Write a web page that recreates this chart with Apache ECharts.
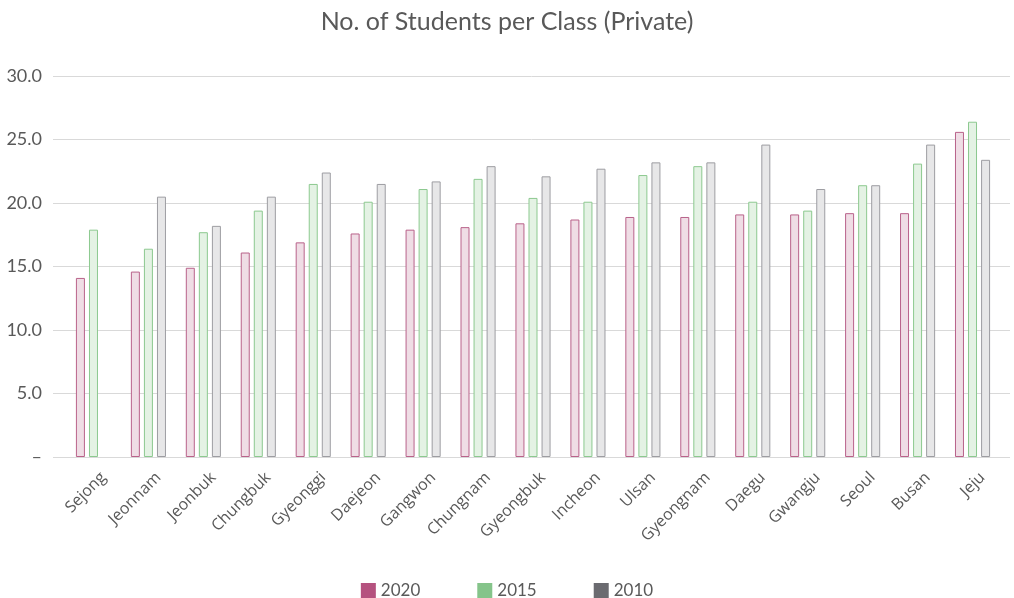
<!DOCTYPE html>
<html>
<head>
<meta charset="utf-8">
<script src="https://cdn.jsdelivr.net/npm/echarts@6/dist/echarts.min.js"></script>
<style>
html,body{margin:0;padding:0;background:#fff;}
#chart{width:1014px;height:598px;}
</style>
</head>
<body>
<div id="chart"></div>
<script>
const categories = ["Sejong","Jeonnam","Jeonbuk","Chungbuk","Gyeonggi","Daejeon","Gangwon","Chungnam","Gyeongbuk","Incheon","Ulsan","Gyeongnam","Daegu","Gwangju","Seoul","Busan","Jeju"];
const values2020 = [14.1,14.6,14.9,16.1,16.9,17.6,17.9,18.1,18.4,18.7,18.9,18.9,19.1,19.1,19.2,19.2,25.6];
const values2015 = [17.9,16.4,17.7,19.4,21.5,20.1,21.1,21.9,20.4,20.1,22.2,22.9,20.1,19.4,21.4,23.1,26.4];
const values2010 = [null,20.5,18.2,20.5,22.4,21.5,21.7,22.9,22.1,22.7,23.2,23.2,24.6,21.1,21.4,24.6,23.4];
const yTicks = [0,5,10,15,20,25,30];

const chart = echarts.init(document.getElementById('chart'));
const txt = '#595959';
function bar(name, data, fill, border) {
  return {
    name: name, type: 'bar', xAxisIndex: 1, yAxisIndex: 1, data: data,
    barWidth: 9, barGap: '45%',
    itemStyle: {color: fill, borderColor: border, borderWidth: 1},
    emphasis: {disabled: true}
  };
}
chart.setOption({
  animation: false,
  title: {
    text: 'No. of Students per Class (Private)', left: 'center', top: 4,
    textStyle: {fontFamily: 'Lato', fontSize: 25, fontWeight: 'normal', color: txt}
  },
  legend: {
    top: 577, left: 'center', itemWidth: 15, itemHeight: 15, itemGap: 57,
    textStyle: {fontFamily: 'Lato', fontSize: 17, color: txt},
    data: [
      {name: '2020', icon: 'rect', itemStyle: {color: '#b5527f', borderWidth: 0}},
      {name: '2015', icon: 'rect', itemStyle: {color: '#85c48a', borderWidth: 0}},
      {name: '2010', icon: 'rect', itemStyle: {color: '#6b6b70', borderWidth: 0}}
    ]
  },
  grid: [
    {left: 53, right: 4, top: 76, bottom: 141},
    {left: 66, right: 14, top: 76, bottom: 141},
    {left: 76, right: 4, top: 76, bottom: 141}
  ],
  xAxis: [
    {type: 'category', gridIndex: 0, data: categories, show: false},
    {type: 'category', gridIndex: 1, data: categories,
     axisLine: {show: false}, axisTick: {show: false}, axisLabel: {show: false}},
    {type: 'category', gridIndex: 2, data: categories,
     axisLine: {show: false}, axisTick: {show: false},
     axisLabel: {rotate: 45, interval: 0, margin: 18, fontFamily: '"Open Sans", sans-serif', fontSize: 16, color: txt}}
  ],
  yAxis: [
    {type: 'value', gridIndex: 0, min: 0, max: 30, interval: 5,
     axisLine: {show: false}, axisTick: {show: false},
     splitLine: {lineStyle: {color: '#d9d9d9', width: 1}},
     axisLabel: {margin: 11, fontFamily: 'Lato', fontSize: 18, color: txt,
       formatter: v => yTicks.includes(v) ? (v === 0 ? '–' : v.toFixed(1)) : ''}},
    {type: 'value', gridIndex: 1, min: 0, max: 30, interval: 5, show: false, splitLine: {show: false}},
    {type: 'value', gridIndex: 2, min: 0, max: 30, interval: 5, show: false, splitLine: {show: false}}
  ],
  series: [
    bar('2020', values2020, '#efdde5', '#b9628a'),
    bar('2015', values2015, '#e4f2e4', '#8cc98f'),
    bar('2010', values2010, '#e7e7e8', '#9d9da2')
  ]
});
</script>
</body>
</html>
